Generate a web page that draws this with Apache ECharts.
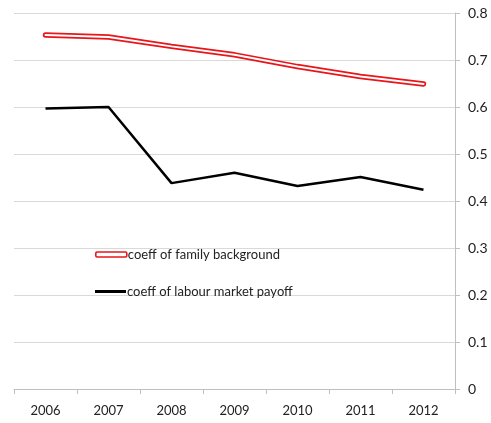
<!DOCTYPE html>
<html><head><meta charset="utf-8">
<script src="https://cdn.jsdelivr.net/npm/echarts@6/dist/echarts.min.js"></script>
<style>html,body{margin:0;padding:0;background:#fff}#c{width:491px;height:423px}</style>
</head><body><div id="c"></div>
<script>
const years = ['2006','2007','2008','2009','2010','2011','2012'];
const familyBackground = [0.753, 0.749, 0.729, 0.711, 0.686, 0.665, 0.649];
const labourPayoff = [0.597, 0.600, 0.438, 0.460, 0.432, 0.451, 0.424];
const yTicks = [0, 0.1, 0.2, 0.3, 0.4, 0.5, 0.6, 0.7, 0.8];

const font = 'Lato, "Open Sans", sans-serif';
const chart = echarts.init(document.getElementById('c'));
chart.setOption({
  animation: false,
  grid: {left: 14, right: 36, top: 13, bottom: 34},
  legend: [{
    data: [{name: 'coeff of family background', icon: 'roundRect',
            itemStyle: {color: '#fff', borderColor: '#e8161b', borderWidth: 1.6}}],
    left: 90, top: 243, itemWidth: 31, itemHeight: 5, itemGap: 2,
    textStyle: {fontFamily: font, fontSize: 13, color: '#222', padding: [0,0,0,-4]}
  }, {
    data: [{name: 'coeff of labour market payoff', icon: 'rect',
            itemStyle: {color: '#000', borderWidth: 0}}],
    left: 90, top: 280, itemWidth: 31, itemHeight: 3,
    textStyle: {fontFamily: font, fontSize: 13, color: '#222', padding: [0,0,0,-4]}
  }],
  xAxis: {
    type: 'category', data: years, boundaryGap: true,
    axisLine: {lineStyle: {color: '#bfbfbf'}},
    axisTick: {show: true, length: 5, lineStyle: {color: '#bfbfbf'}},
    axisLabel: {fontFamily: font, fontSize: 13, color: '#222', margin: 15}
  },
  yAxis: {
    type: 'value', position: 'right', min: yTicks[0], max: yTicks[yTicks.length-1], interval: 0.1,
    axisLine: {show: true, lineStyle: {color: '#bfbfbf'}},
    axisTick: {show: true, length: 5, lineStyle: {color: '#bfbfbf'}},
    axisLabel: {fontFamily: font, fontSize: 14, color: '#222', margin: 13,
      formatter: v => (Math.round(v*10)/10).toString()},
    splitLine: {lineStyle: {color: '#d9d9d9'}}
  },
  series: [{
    name: 'coeff of family background', type: 'line', data: familyBackground,
    symbol: 'none', lineStyle: {color: '#e8161b', width: 5.5, cap: 'round'}, itemStyle: {color: '#e8161b'}, z: 2
  }, {
    name: 'familyInner', type: 'line', data: familyBackground,
    symbol: 'none', lineStyle: {color: '#fff', width: 2, cap: 'round'}, z: 3, silent: true
  }, {
    name: 'coeff of labour market payoff', type: 'line', data: labourPayoff,
    symbol: 'none', lineStyle: {color: '#000', width: 2.5}, itemStyle: {color: '#000'}, z: 2
  }]
});
</script></body></html>
